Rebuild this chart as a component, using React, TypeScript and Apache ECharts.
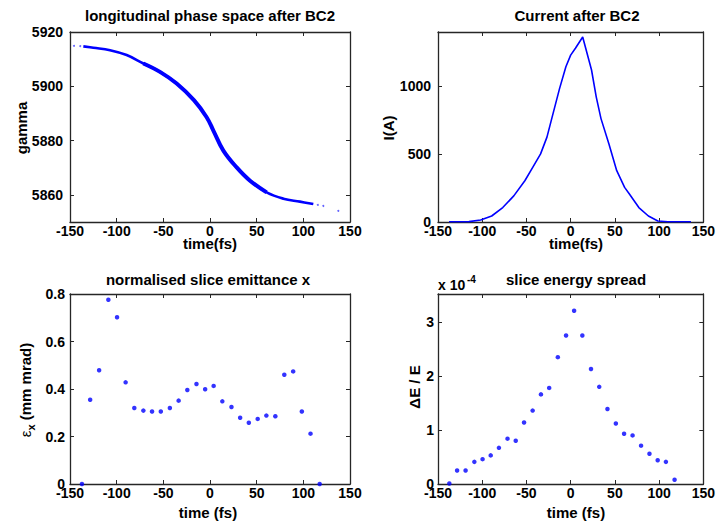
import React, { useEffect, useRef } from "react";
import * as echarts from "echarts";

const FONT = '"Liberation Sans", Arial, Helvetica, sans-serif';
const BLUE = "#0000ff";
const AXIS = "#262626";
const TXT = "#000000";

// ---------- data ----------
const timeTicks = [-150, -100, -50, 0, 50, 100, 150];
const gammaTicks = [5860, 5880, 5900, 5920];
const currentTicks = [0, 500, 1000];
const emitTicks = [0, 0.2, 0.4, 0.6, 0.8];
const spreadTicks = [0, 1, 2, 3];

// longitudinal phase space band (centre line)
const phaseTime = [-135.7, -125, -107.1, -89.3, -71.4, -53.6, -35.7, -17, -3.6, 3.6, 14.3, 28.6, 42.9, 60.7, 78.6, 96.4, 110.7];
const phaseGamma = [5914.7, 5914.2, 5913.3, 5911.5, 5908.4, 5905.3, 5901.0, 5894.8, 5888.6, 5883.7, 5876.3, 5870.1, 5865.2, 5860.9, 5858.6, 5857.5, 5856.6];
// stray particles at the ends
const strayTime = [-145.7, -139, 115.5, 121.4, 137.5];
const strayGamma = [5914.9, 5914.8, 5856.3, 5855.9, 5854.1];

// current profile
const currentTime = [-137.5, -115, -101.8, -89.3, -76.8, -64.3, -51.8, -42.9, -34, -26.8, -21.4, -12.5, -5.4, 0, 5.4, 13.6, 23.6, 28.9, 34.3, 43.2, 52.1, 61, 66.4, 77.1, 87.9, 98.6, 110, 136];
const currentAmps = [2, 3, 15, 44, 106, 192, 303, 401, 500, 623, 759, 981, 1140, 1225, 1276, 1358, 1116, 919, 759, 574, 377, 254, 205, 106, 44, 7, 2, 2];

// slice quantities
const sliceTime = [-137.2, -128.4, -118.8, -108.9, -99.6, -90.4, -81.1, -71.4, -62.1, -52.7, -43.0, -33.6, -24.3, -14.5, -5.2, 3.9, 13.2, 23.0, 32.3, 41.6, 51.1, 60.4, 70.0, 79.6, 89.1, 98.4, 107.7, 117.5];
const sliceEmittance = [0, 0.355, 0.479, 0.776, 0.702, 0.428, 0.320, 0.309, 0.305, 0.305, 0.320, 0.351, 0.396, 0.421, 0.399, 0.413, 0.348, 0.324, 0.279, 0.258, 0.274, 0.288, 0.285, 0.460, 0.474, 0.305, 0.212, 0];
const sliceSpreadE4 = [0.01, 0.25, 0.25, 0.41, 0.46, 0.53, 0.67, 0.84, 0.80, 1.14, 1.36, 1.66, 1.78, 2.35, 2.75, 3.21, 2.75, 2.13, 1.80, 1.39, 1.12, 0.93, 0.90, 0.71, 0.56, 0.44, 0.41, 0.08];

const titles = ["longitudinal phase space after BC2", "Current after BC2", "normalised slice emittance x", "slice energy spread"];

// ---------- helpers ----------
const grids = [
  { left: 70, top: 32, width: 280, height: 190 },
  { left: 438, top: 32, width: 279, height: 190 },
  { left: 70, top: 294, width: 280, height: 190 },
  { left: 438, top: 294, width: 279, height: 190 },
];

const fmt = (v: number) => String(Math.round(v * 1000) / 1000);

function makeX(gridIndex: number, top: boolean) {
  return {
    type: "value",
    gridIndex,
    position: top ? "top" : "bottom",
    min: -150,
    max: 150,
    interval: 50,
    axisLine: { show: true, onZero: false, lineStyle: { color: AXIS, width: 1.3 } },
    axisTick: { show: true, inside: true, length: 4, customValues: timeTicks, lineStyle: { color: AXIS, width: 1 } },
    axisLabel: {
      show: !top,
      margin: 2,
      color: TXT,
      fontFamily: FONT,
      fontWeight: "bold",
      fontSize: 14,
      customValues: timeTicks,
      formatter: fmt,
    },
    splitLine: { show: false },
  };
}

function makeY(gridIndex: number, right: boolean, min: number, max: number, ticks: number[], margin: number) {
  return {
    type: "value",
    gridIndex,
    position: right ? "right" : "left",
    min,
    max,
    axisLine: { show: true, onZero: false, lineStyle: { color: AXIS, width: 1.3 } },
    axisTick: { show: true, inside: true, length: 4, customValues: ticks, lineStyle: { color: AXIS, width: 1 } },
    axisLabel: {
      show: !right,
      margin,
      color: TXT,
      fontFamily: FONT,
      fontWeight: "bold",
      fontSize: 14,
      customValues: ticks,
      formatter: fmt,
    },
    splitLine: { show: false },
  };
}

const txt = (text: string, x: number, y: number, size: number, rotate = false) => ({
  type: "text",
  x,
  y,
  rotation: rotate ? Math.PI / 2 : 0,
  style: {
    text,
    align: "center",
    verticalAlign: "middle",
    fontFamily: FONT,
    fontWeight: "bold",
    fontSize: size,
    fill: TXT,
  },
});

export default function App() {
  const ref = useRef<HTMLDivElement>(null);

  useEffect(() => {
    if (!ref.current) return;
    const chart = echarts.init(ref.current, undefined, { renderer: "svg" });

    const xAxis = [0, 1, 2, 3].flatMap((g) => [makeX(g, false), makeX(g, true)]);
    const yAxis = [
      makeY(0, false, 5850, 5920, gammaTicks, 7),
      makeY(0, true, 5850, 5920, gammaTicks, 7),
      makeY(1, false, 0, 1395, currentTicks, 7),
      makeY(1, true, 0, 1395, currentTicks, 7),
      makeY(2, false, 0, 0.8, emitTicks, 5),
      makeY(2, true, 0, 0.8, emitTicks, 5),
      makeY(3, false, 0, 3.52, spreadTicks, 4),
      makeY(3, true, 0, 3.52, spreadTicks, 4),
    ];

    const phasePts = phaseTime.map((t, i) => [t, phaseGamma[i]]);
    // the dense core of the band (thicker in the middle)
    const phaseCore = phasePts.slice(4, 14);

    const option = {
      animation: false,
      backgroundColor: "#ffffff",
      grid: grids.map((g) => ({ ...g, containLabel: false })),
      xAxis,
      yAxis,
      series: [
        {
          type: "line",
          xAxisIndex: 0,
          yAxisIndex: 0,
          data: phasePts,
          showSymbol: false,
          smooth: 0.4,
          lineStyle: { color: BLUE, width: 2.6 },
        },
        {
          type: "line",
          xAxisIndex: 0,
          yAxisIndex: 0,
          data: phaseCore,
          showSymbol: false,
          smooth: 0.4,
          lineStyle: { color: BLUE, width: 4 },
        },
        {
          type: "scatter",
          xAxisIndex: 0,
          yAxisIndex: 0,
          data: strayTime.map((t, i) => [t, strayGamma[i]]),
          symbol: "circle",
          symbolSize: 2,
          itemStyle: { color: BLUE, opacity: 0.6 },
        },
        {
          type: "line",
          xAxisIndex: 2,
          yAxisIndex: 2,
          data: currentTime.map((t, i) => [t, currentAmps[i]]),
          showSymbol: false,
          smooth: false,
          lineStyle: { color: BLUE, width: 1.6 },
        },
        {
          type: "scatter",
          xAxisIndex: 4,
          yAxisIndex: 4,
          data: sliceTime.map((t, i) => [t, sliceEmittance[i]]),
          symbol: "circle",
          symbolSize: 4.5,
          clip: false,
          itemStyle: { color: BLUE },
        },
        {
          type: "scatter",
          xAxisIndex: 6,
          yAxisIndex: 6,
          data: sliceTime.map((t, i) => [t, sliceSpreadE4[i]]),
          symbol: "circle",
          symbolSize: 4.5,
          clip: false,
          itemStyle: { color: BLUE },
        },
      ],
      graphic: [
        txt(titles[0], 210, 15, 15),
        txt(titles[1], 577, 15, 15),
        txt(titles[2], 208, 279, 15),
        txt(titles[3], 576, 279, 15),
        txt("time(fs)", 210, 243, 15),
        txt("time(fs)", 576, 243, 15),
        txt("time (fs)", 208, 512, 15),
        txt("time (fs)", 576, 512, 15),
        txt("gamma", 21, 128, 15, true),
        txt("I(A)", 388, 128, 15, true),
        txt("\u0394E / E", 414, 387, 15, true),
        {
          type: "text",
          x: 25,
          y: 390,
          rotation: Math.PI / 2,
          style: {
            text: "{e|\u03b5}{s|x}{n| (mm mrad)}",
            align: "center",
            verticalAlign: "middle",
            fill: TXT,
            rich: {
              e: { fontFamily: FONT, fontSize: 15, fill: TXT, lineHeight: 22, verticalAlign: "middle" },
              s: { fontFamily: FONT, fontSize: 11, fontWeight: "bold", fill: TXT, lineHeight: 22, verticalAlign: "bottom" },
              n: { fontFamily: FONT, fontSize: 15, fontWeight: "bold", fill: TXT, lineHeight: 22, verticalAlign: "middle" },
            },
          },
        },
        {
          type: "text",
          x: 438,
          y: 285,
          style: {
            text: "x 10",
            align: "left",
            verticalAlign: "middle",
            fontFamily: FONT,
            fontWeight: "bold",
            fontSize: 14,
            fill: TXT,
          },
        },
        {
          type: "text",
          x: 467,
          y: 279,
          style: {
            text: "-4",
            align: "left",
            verticalAlign: "middle",
            fontFamily: FONT,
            fontWeight: "bold",
            fontSize: 10,
            fill: TXT,
          },
        },
      ],
    };

    chart.setOption(option as any);
    return () => chart.dispose();
  }, []);

  return (
    <div
      ref={ref}
      style={{ position: "fixed", left: 0, top: 0, width: 718, height: 523, background: "#fff" }}
    />
  );
}
